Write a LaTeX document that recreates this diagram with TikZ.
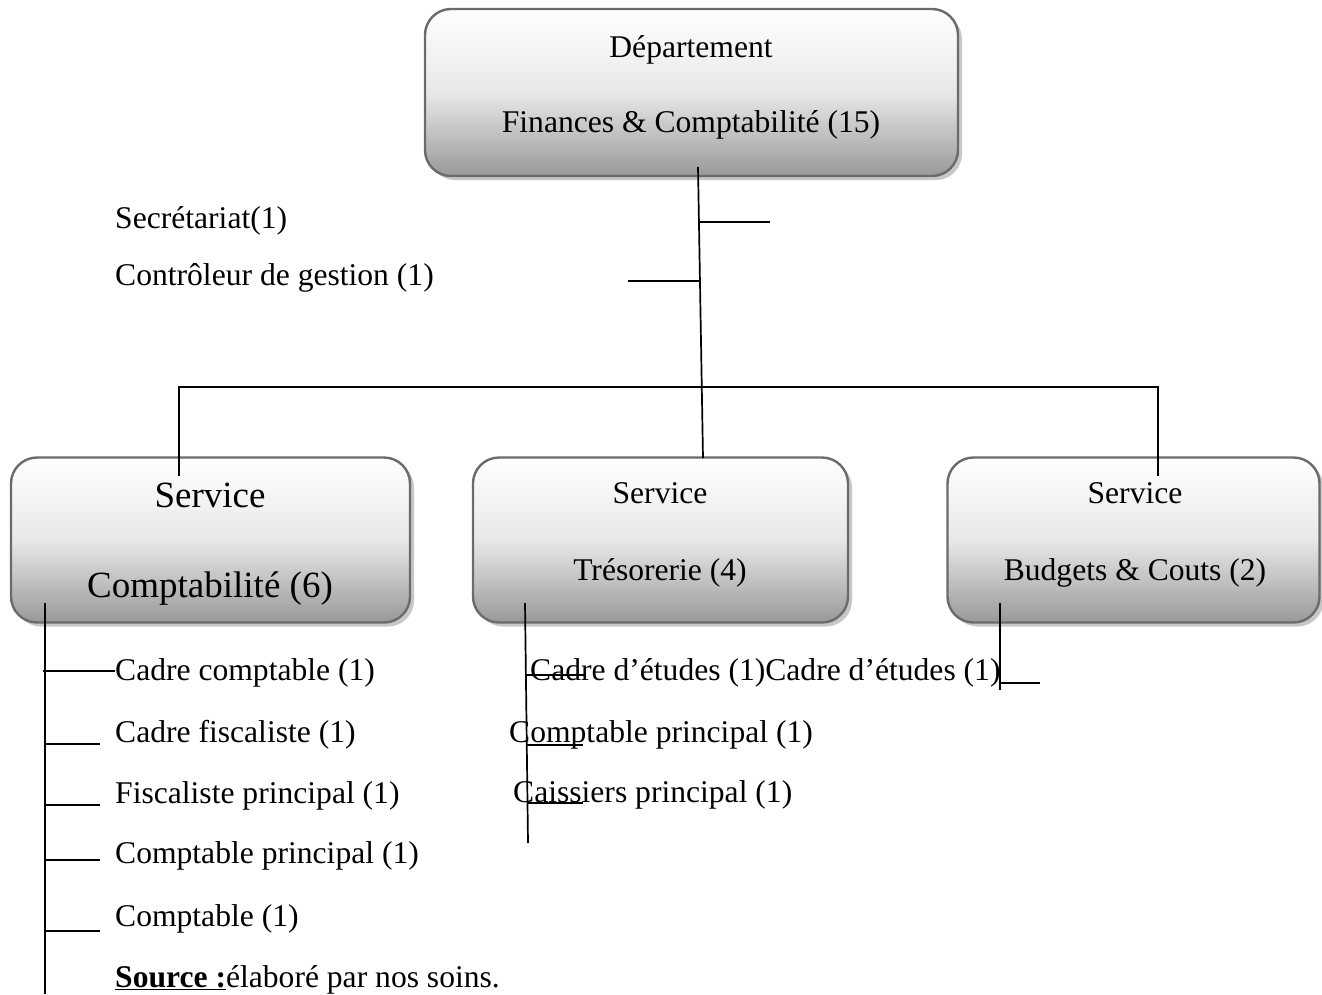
\documentclass[tikz,border=0pt]{standalone}
\usepackage{fontspec}
\setmainfont{Liberation Serif}
\usetikzlibrary{shadows}
\begin{document}
\begin{tikzpicture}[x=1pt,y=-1pt,
  box/.style={rectangle, rounded corners=26pt, draw=black!58, line width=2.4pt,
    top color=white, bottom color=black!40, middle color=black!9,
    drop shadow={shadow xshift=4pt, shadow yshift=-4pt, fill=black!22, opacity=1},
    inner sep=0pt, minimum height=165pt},
  lbl/.style={font=\fontsize{31.6}{38}\selectfont, inner sep=0pt, anchor=base west},
  ctr/.style={font=\fontsize{31.6}{38}\selectfont, inner sep=0pt, anchor=base},
  bigctr/.style={font=\fontsize{37}{44}\selectfont, inner sep=0pt, anchor=base},
  conn/.style={draw=black, line width=1.7pt}]
\useasboundingbox (0,0) rectangle (1322,994);
\fill[white] (0,0) rectangle (1322,994);

% boxes
\node[box, minimum width=533pt, minimum height=167pt] (dept) at (691.5,92.5) {};
\node[box, minimum width=399pt] (comp) at (210.5,540) {};
\node[box, minimum width=375pt] (treso) at (660.5,540) {};
\node[box, minimum width=372pt] (budg) at (1133.5,540) {};

% box texts
\node[ctr] (deptA) at (691,57) {Département};
\node[ctr] (deptB) at (691,132) {Finances \& Comptabilité (15)};
\node[bigctr] (compA) at (210,507) {Service};
\node[bigctr] (compB) at (210,597) {Comptabilité (6)};
\node[ctr] (tresA) at (660,503) {Service};
\node[ctr] (tresB) at (660,580) {Trésorerie (4)};
\node[ctr] (budA) at (1135,503) {Service};
\node[ctr] (budB) at (1135,580) {Budgets \& Couts (2)};

% staff texts
\node[lbl] (sec) at (115,228) {Secrétariat(1)};
\node[lbl] (ctrl) at (115,285) {Contrôleur de gestion (1)};
\node[lbl] (c1) at (115,680) {Cadre comptable (1)};
\node[lbl] (c2) at (115,742) {Cadre fiscaliste (1)};
\node[lbl] (c3) at (115,803) {Fiscaliste principal (1)};
\node[lbl] (c4) at (115,863) {Comptable principal (1)};
\node[lbl] (c5) at (115,926) {Comptable (1)};
\node[lbl] (src) at (115,987) {\textbf{\underline{Source :}}élaboré par nos soins.};
\node[lbl] (t1) at (530,680) {Cadre d’études (1)Cadre d’études (1)};
\node[lbl] (t2) at (509,742) {Comptable principal (1)};
\node[lbl] (t3) at (513,802) {Caissiers principal (1)};

% connector coordinates
\coordinate (dTop) at (698,167);
\coordinate (dBot) at (703,458);
\coordinate (jSec) at (699.5,222);
\coordinate (eSec) at (770,222);
\coordinate (jCtl) at (700.5,281);
\coordinate (eCtl) at (628,281);
\coordinate (bL) at (179,387);
\coordinate (bR) at (1158,387);
\coordinate (bLd) at (179,476);
\coordinate (bRd) at (1158,476);
\coordinate (cv1) at (45,603);
\coordinate (cv2) at (45,994);
\coordinate (tv1) at (525,603);
\coordinate (tv2) at (528,843);
\coordinate (bv1) at (1000,603);
\coordinate (bv2) at (1000,690);

% main connectors
\draw[conn] (dTop) -- (dBot);
\draw[conn] (jSec) -- (eSec);
\draw[conn] (eCtl) -- (jCtl);
\draw[conn] (bLd) -- (bL) -- (bR) -- (bRd);

% Comptabilite branches
\draw[conn] (cv1) -- (cv2);
\draw[conn] (43,671) -- (c1.west |- 0,671);
\draw[conn] (45,744) -- (100,744);
\draw[conn] (45,805) -- (100,805);
\draw[conn] (45,860) -- (100,860);
\draw[conn] (45,931) -- (100,931);

% Tresorerie branches
\draw[conn] (tv1) -- (tv2);
\draw[conn] (527,675) -- (585,675);
\draw[conn] (526,745) -- (583,745);
\draw[conn] (527,803) -- (583,803);

% Budgets branches
\draw[conn] (bv1) -- (bv2);
\draw[conn] (1000,683) -- (1040,683);
\end{tikzpicture}
\end{document}
